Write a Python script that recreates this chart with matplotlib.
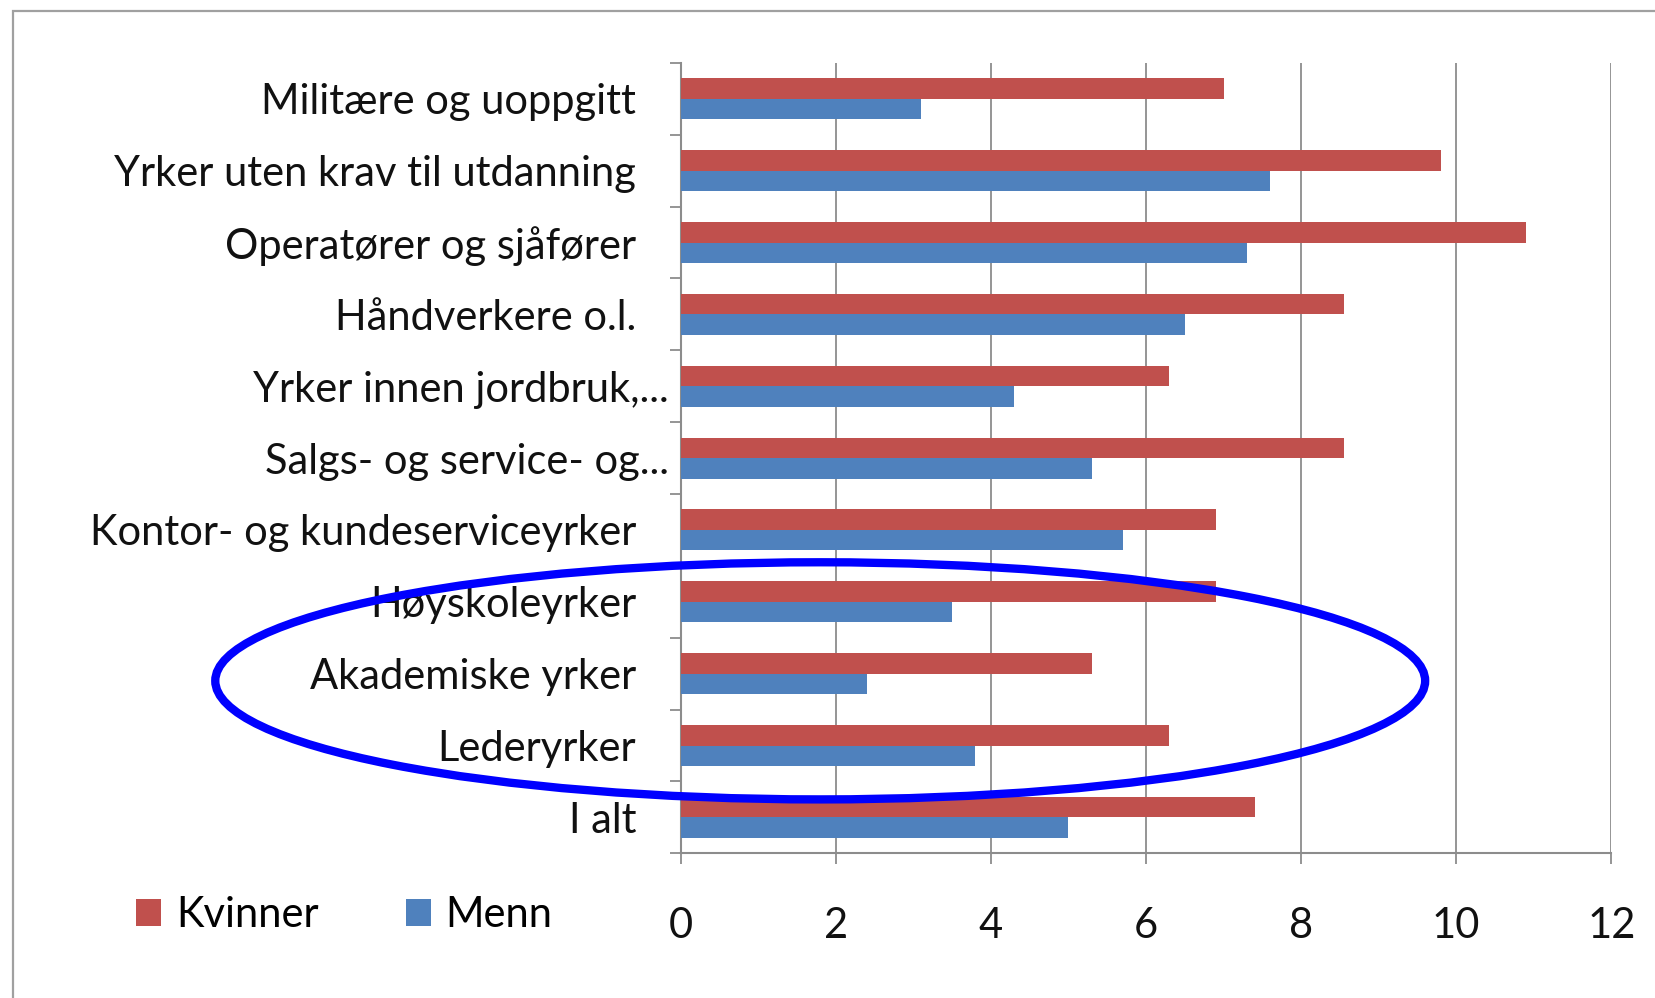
import numpy as np
import matplotlib
matplotlib.use("Agg")
import matplotlib.pyplot as plt
import matplotlib.transforms as mtransforms
from matplotlib.patches import Ellipse, Rectangle

# categories from bottom to top (Excel order)
categories = ["I alt", "Lederyrker", "Akademiske yrker", "Høyskoleyrker",
              "Kontor- og kundeserviceyrker", "Salgs- og service- og...",
              "Yrker innen jordbruk,...", "Håndverkere o.l.",
              "Operatører og sjåfører", "Yrker uten krav til utdanning",
              "Militære og uoppgitt"]
kvinner = [7.4, 6.3, 5.3, 6.9, 6.9, 8.55, 6.3, 8.55, 10.9, 9.8, 7.0]
menn = [5.0, 3.8, 2.4, 3.5, 5.7, 5.3, 4.3, 6.5, 7.3, 7.6, 3.1]
xticks = [0, 2, 4, 6, 8, 10, 12]
series_names = ["Kvinner", "Menn"]

RED = "#C0504D"
BLUE = "#4F81BD"
GRID = "#8c8c8c"

plt.rcParams['font.family'] = ['Lato', 'DejaVu Sans']
fs = 30

fig = plt.figure(figsize=(16.56, 9.98), dpi=100)
# outer chart frame
fig.patches.append(Rectangle((13/1656, -0.1), 1.2, 1.1 - 11/998,
                             transform=fig.transFigure, fill=False,
                             edgecolor="#a0a0a0", linewidth=1.6))

ax = fig.add_axes([0.411, 0.145, 0.562, 0.792])
y = np.arange(len(categories))
h = 0.285
ax.barh(y + h/2, kvinner, height=h, color=RED, label=series_names[0], zorder=3)
ax.barh(y - h/2, menn, height=h, color=BLUE, label=series_names[1], zorder=3)

ax.set_xlim(0, 12)
ax.set_ylim(-0.5, len(categories) - 0.5)
ax.set_xticks(xticks)
ax.set_xticklabels([str(t) for t in xticks], fontsize=fs, color="#111111")
ax.set_yticks(y)
ax.set_yticklabels(categories, fontsize=fs, color="#111111")
ax.set_yticks(np.arange(len(categories) + 1) - 0.5, minor=True)

ax.tick_params(axis='y', which='major', length=0, pad=32)
ax.tick_params(axis='y', which='minor', length=8, color=GRID, width=1.3, direction='out')
ax.tick_params(axis='x', which='major', length=8, color=GRID, width=1.3, pad=31)

for lab in ax.get_yticklabels():
    if lab.get_text().endswith("..."):
        lab.set_transform(lab.get_transform() +
                          mtransforms.ScaledTranslation(33/100, 0, fig.dpi_scale_trans))

ax.grid(axis='x', color=GRID, linewidth=1.3, zorder=0)
for s in ["top", "right"]:
    ax.spines[s].set_visible(False)
for s in ["left", "bottom"]:
    ax.spines[s].set_color(GRID)
    ax.spines[s].set_linewidth(1.5)

# highlight ring
ax.add_patch(Ellipse((1.8, 1.9), 15.6, 3.3, fill=False, edgecolor="#0000ff",
                     linewidth=6, clip_on=False, zorder=5))

fig.legend(loc='center', bbox_to_anchor=(0.208, 0.083), ncol=2, frameon=False,
           fontsize=fs, handlelength=0.6, handleheight=0.6, handletextpad=0.35,
           columnspacing=2.1)

fig.savefig("out.png", dpi=100)
